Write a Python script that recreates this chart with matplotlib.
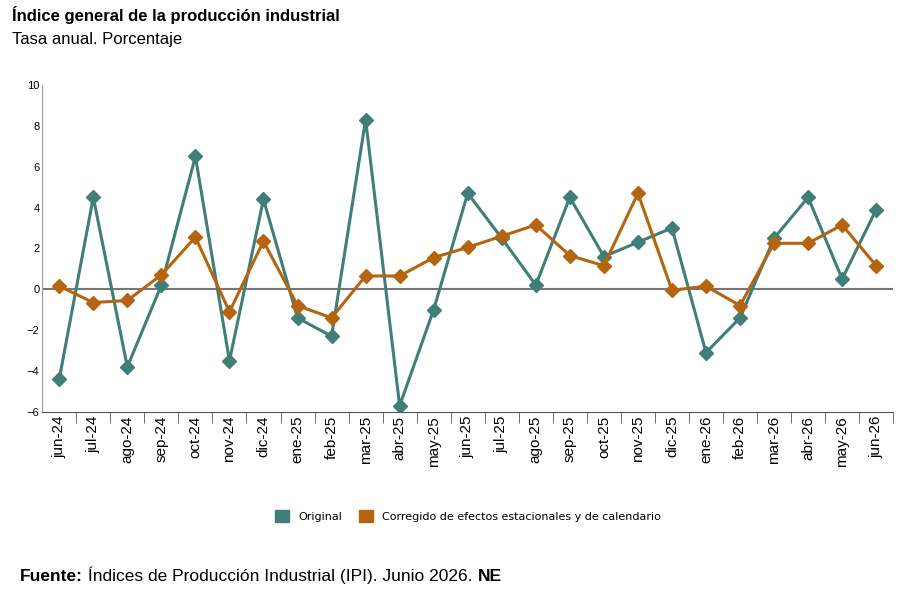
import matplotlib
matplotlib.use("Agg")
import matplotlib.pyplot as plt
import numpy as np
from matplotlib.patches import Patch

months = ["jun-24","jul-24","ago-24","sep-24","oct-24","nov-24","dic-24","ene-25","feb-25","mar-25","abr-25","may-25",
          "jun-25","jul-25","ago-25","sep-25","oct-25","nov-25","dic-25","ene-26","feb-26","mar-26","abr-26","may-26","jun-26"]
original = [-4.4,4.5,-3.8,0.2,6.5,-3.5,4.4,-1.4,-2.3,8.3,-5.7,-1.0,4.7,2.5,0.2,4.5,1.6,2.3,3.0,-3.1,-1.4,2.5,4.5,0.5,3.9]
corregido = [0.15,-0.65,-0.55,0.7,2.55,-1.1,2.35,-0.8,-1.4,0.65,0.65,1.55,2.05,2.6,3.15,1.65,1.15,4.7,-0.05,0.15,-0.8,2.25,2.25,3.15,1.15]

plt.rcParams['font.family'] = ['Liberation Sans', 'DejaVu Sans']
teal = "#3f7f78"
orange = "#b5640f"
fig = plt.figure(figsize=(9.18,5.90), dpi=100)
ax = fig.add_axes([0.046, 0.302, 0.927, 0.554])
x = np.arange(len(months))
ax.plot(x, original, color=teal, lw=2.2, marker="D", ms=7)
ax.plot(x, corregido, color=orange, lw=2.2, marker="D", ms=7)
ax.axhline(0, color="#777777", lw=1.5, zorder=0)
ax.set_xlim(-0.5, len(months)-0.75)
ax.set_ylim(-6, 10)
ax.set_yticks(range(-6, 11, 2))
ax.tick_params(axis="y", labelsize=8, length=0, pad=2)
ax.set_xticks(x)
ax.set_xticklabels(months, rotation=90, fontsize=11)
ax.set_xticks(x + 0.5, minor=True)
ax.tick_params(axis="x", which="major", length=0, pad=3)
ax.tick_params(axis="x", which="minor", length=8, color="#555555")
for s in ["top", "right"]:
    ax.spines[s].set_visible(False)
ax.spines["left"].set_color("#999999")
ax.spines["bottom"].set_color("#555555")
ax.legend(handles=[Patch(color=teal, label="Original"),
                   Patch(color=orange, label="Corregido de efectos estacionales y de calendario")],
          loc="upper center", bbox_to_anchor=(0.5, -0.27), ncol=2, frameon=False,
          prop={'family': 'DejaVu Sans', 'size': 8},
          handlelength=1.3, handleheight=1.3, columnspacing=1.5)
fig.text(0.013, 0.965, "Índice general de la producción industrial", fontsize=12, fontweight="bold")
fig.text(0.013, 0.925, "Tasa anual. Porcentaje", fontsize=12)
t1 = fig.text(0.022, 0.015, "Fuente:", fontsize=12.5, fontweight="bold")
t2 = fig.text(0, 0, " Índices de Producción Industrial (IPI). Junio 2026. ", fontsize=12.5,
              transform=matplotlib.transforms.offset_copy(fig.transFigure, fig=fig, x=0, y=0))
fig.canvas.draw()
r = fig.canvas.get_renderer()
bb1 = t1.get_window_extent(r)
t2.set_transform(matplotlib.transforms.IdentityTransform())
t2.set_position((bb1.x1, bb1.y0 + 0))
t2.set_va("baseline"); t1.set_va("baseline")
fig.canvas.draw()
bb1 = t1.get_window_extent(r)
t2.set_position((bb1.x1, t1.get_transform().transform(t1.get_position())[1]))
fig.canvas.draw()
bb2 = t2.get_window_extent(r)
t3 = fig.text(bb2.x1, t1.get_transform().transform(t1.get_position())[1], "NE", fontsize=12.5,
              fontweight="bold", transform=matplotlib.transforms.IdentityTransform(), va="baseline")
fig.savefig("out.png", dpi=100)
